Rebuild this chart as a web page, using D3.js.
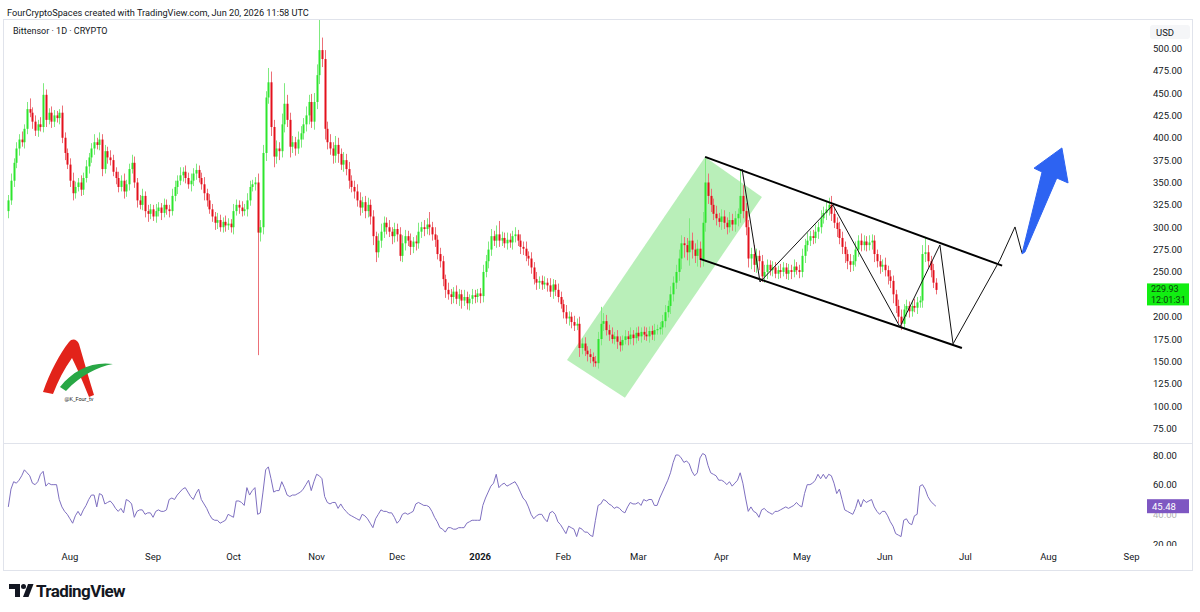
<!DOCTYPE html>
<html>
<head>
<meta charset="utf-8">
<title>Bittensor 1D chart</title>
<style>
  body { margin: 0; background: #fff; }
  svg { display: block; font-family: Roboto, "Liberation Sans", sans-serif; }
</style>
</head>
<body>
<svg id="chart" width="1200" height="612"></svg>
<script src="https://cdn.jsdelivr.net/npm/d3@7/dist/d3.min.js"></script>
<script>
// daily candles, first one on 2025-07-09
var firstDay = Date.UTC(2025, 6, 9);
var firstOpen = 318;

// closes, one per day (open = previous close)
var closes = [
  330,352,372,388,398,395,410,432,428,418,408,415,412,448,420,428,418,425,422,428,
  400,383,370,352,338,345,350,342,355,368,378,388,395,392,398,365,385,378,375,362,
  355,345,352,340,348,365,372,350,330,325,335,318,315,320,312,318,322,316,325,320,
  318,335,345,352,358,362,355,348,352,360,364,355,348,338,330,320,312,305,308,300,
  306,302,304,300,318,325,322,318,320,330,345,348,350,294,300,383,445,462,412,379,
  388,385,415,438,420,390,395,388,398,405,415,425,440,418,440,470,498,488,410,395,
  388,380,392,382,370,375,365,352,345,340,330,322,328,318,325,312,290,272,285,295,
  305,300,295,290,298,292,268,282,290,285,278,284,282,295,300,298,303,300,292,286,
  270,262,242,230,225,222,228,220,225,218,222,215,220,224,222,226,223,250,262,275,
  290,285,292,285,288,282,286,283,290,292,285,278,276,268,265,255,242,238,240,236,
  238,235,228,236,230,222,214,205,198,200,194,190,192,165,170,162,158,155,150,148,
  175,192,195,185,180,175,178,172,168,174,178,175,180,176,182,178,183,180,178,184,
  180,185,186,188,195,205,212,225,238,250,265,282,280,272,285,275,268,276,264,305,
  350,335,325,315,310,306,312,305,300,308,303,310,315,335,318,300,265,270,258,268,
  262,245,250,258,252,255,248,252,250,255,248,252,250,256,252,250,268,280,285,290,
  288,295,300,310,316,320,325,315,305,298,288,278,270,262,258,262,275,285,280,284,
  280,283,285,270,262,256,258,252,245,240,225,212,200,192,208,212,206,212,210,216,
  218,270,272,262,252,238,229.93
];

// wick length above the body, USD
var wickUp = [
  6,8,5,7,6,9,5,8,12,6,7,5,8,13,6,5,7,6,5,4,
  8,6,5,7,9,6,5,8,6,7,5,6,9,5,8,6,7,5,8,6,
  5,7,6,8,5,6,9,7,5,6,8,5,7,6,5,8,6,5,7,6,
  5,8,7,6,9,5,7,6,8,6,7,5,6,8,5,7,6,5,8,6,
  5,7,6,5,8,6,5,7,6,8,7,5,6,10,8,9,7,16,12,8,
  9,7,12,23,10,8,7,6,9,8,7,10,8,9,10,12,34,14,10,8,
  9,7,10,8,6,9,7,8,6,7,8,9,6,7,8,6,7,5,8,9,
  7,6,8,5,7,6,8,9,7,6,8,5,7,10,6,8,7,14,6,8,
  5,7,6,5,8,6,5,7,6,5,8,6,5,7,6,5,6,8,7,9,
  8,6,10,15,7,6,8,7,6,8,5,7,6,8,5,7,6,8,5,6,
  7,5,8,6,5,7,6,5,8,6,5,7,6,8,6,7,5,6,5,6,
  8,19,9,7,6,8,5,7,6,5,7,6,8,5,6,7,5,6,8,5,
  6,7,5,6,7,8,6,9,7,8,10,9,7,8,25,9,7,10,8,12,
  27,10,8,7,9,6,8,7,6,9,7,8,6,29,12,9,8,7,10,8,
  6,7,8,6,5,7,6,5,7,6,5,7,6,8,5,6,8,7,9,6,
  7,8,6,9,7,8,8,10,7,6,8,7,6,5,8,7,9,6,8,7,
  6,8,7,6,5,7,6,8,5,7,6,5,7,8,6,7,5,6,8,6,
  5,10,16,8,6,7,5
];

// wick length below the body, USD
var wickDown = [
  8,5,7,6,8,5,7,6,5,8,6,7,5,6,8,5,7,6,5,7,
  6,8,5,7,8,6,5,7,6,5,8,6,7,5,6,8,5,7,6,5,
  7,6,5,8,6,7,5,6,8,5,6,7,9,6,5,7,6,8,5,6,
  7,5,6,8,5,7,6,5,8,6,7,5,6,8,7,5,6,8,7,5,
  6,7,5,6,8,5,7,6,5,8,6,5,7,137,10,8,9,7,10,12,
  8,10,7,9,8,12,7,8,6,9,7,8,10,7,9,8,10,9,12,8,
  7,9,8,10,6,8,7,9,6,8,7,9,6,8,7,9,10,11,6,8,
  7,8,6,9,7,8,6,7,8,6,9,7,8,6,7,8,6,9,7,8,
  6,7,8,9,6,8,7,6,8,9,6,7,8,6,7,6,8,7,6,8,
  7,6,8,7,6,5,7,6,8,7,6,8,7,6,8,7,6,8,7,6,
  5,7,6,8,7,6,5,7,6,8,7,6,5,10,7,6,8,7,6,4,
  6,7,8,6,7,5,6,8,7,6,5,7,6,8,6,5,7,6,5,7,
  6,7,5,6,8,7,6,9,8,7,10,12,14,9,15,10,8,12,9,8,
  10,9,8,7,8,6,9,7,8,6,7,8,9,10,8,9,10,12,8,9,
  10,6,7,8,6,7,5,6,7,5,6,7,8,6,5,7,6,8,7,6,
  7,6,8,7,6,8,7,8,6,9,7,8,10,9,8,7,6,8,7,6,
  7,6,8,9,7,8,6,7,9,8,10,8,7,7,6,8,7,6,5,7,
  6,8,9,7,8,6,5
];

// RSI(14), one per day
var rsi = [
  45,57,62,61,63,66,70,68,66,61,60,62,67,69,59,61,60,60,60,50,
  45,42,40,37,34,39,42,39,43,46,50,53,53,45,54,53,47,48,49,47,
  44,42,44,41,50,49,47,38,42,43,43,40,41,41,38,42,43,42,42,43,
  50,51,50,53,55,57,58,55,52,50,54,57,50,47,44,40,37,36,36,34,
  35,36,40,39,38,49,49,48,46,58,53,56,58,40,41,55,70,72,64,55,
  56,56,62,58,53,52,53,53,54,55,57,60,63,56,62,67,66,64,52,48,
  47,48,48,44,47,44,42,40,39,38,37,36,40,39,37,34,31,37,40,43,
  42,42,41,41,38,34,36,40,41,40,41,42,47,48,47,46,46,45,42,38,
  35,31,30,28,31,31,30,30,31,31,31,34,35,36,36,36,36,46,51,55,
  59,61,67,58,60,61,59,60,61,62,59,55,51,49,45,40,37,39,40,40,
  37,35,41,42,40,35,33,30,27,32,31,30,25,31,30,28,28,26,25,36,
  46,47,50,49,47,46,44,45,44,42,41,45,48,47,47,48,46,50,49,50,
  50,46,46,51,55,59,63,68,75,80,80,78,75,76,74,69,66,68,78,81,
  80,73,68,67,66,63,63,62,60,62,59,61,63,68,61,51,42,45,42,41,
  38,43,44,42,41,40,42,42,43,44,45,44,45,46,48,46,45,54,60,60,
  61,63,67,64,67,64,67,66,61,54,57,50,43,42,41,40,44,50,45,50,
  48,49,50,45,42,40,42,42,39,35,32,27,26,25,36,37,34,33,39,40,
  59,60,57,52,49,47,45.48
];

var priceTicks = [75,100,125,150,175,200,225,250,275,300,325,350,375,400,425,450,475,500];
var rsiTicks = [20,40,60,80];
var lastTime = "12:01:31";

// drawings: [days after 2026-01-01, price]
var greenBox = [[32.4,151.7],[83.9,378.6],[105.1,333.9],[54,109.3]];
var channelTop = [[83.9,378.6],[194.7,257]];
var channelBottom = [[82,264.6],[179.7,165]];
var zigzag = [[97.7,365.1],[104.4,238.8],[131.6,324.8],[156.6,188.5],[171.5,280.2],
              [176.4,169.6],[193.9,263.5],[199.5,300.3],[202.1,271.3]];
var arrowShape = [[202.1,270.1],[209.6,361.7],[206.6,366],[217,388.6],[219.3,349.5],
                  [215.1,355],[203.2,272.3]];

var DAY = 864e5;
var jan1 = Date.UTC(2026, 0, 1);
function dayDate(i) { return new Date(firstDay + i * DAY); }
function drawDate(d) { return new Date(jan1 + d * DAY); }

var svg = d3.select('#chart');

var x = d3.scaleUtc()
  .domain([dayDate(0), dayDate(346)])
  .range([8.3, 935.9]);
var y = d3.scaleLinear().domain([75, 500]).range([428.5, 48.3]);
var yR = d3.scaleLinear().domain([20, 80]).range([544, 455]);

var green = '#2ee52e', red = '#e3101c';
var ink = '#131722';

// header
svg.append('text').attr('x', 7).attr('y', 15.5)
  .attr('font-size', 9.2).attr('fill', ink)
  .text('FourCryptoSpaces created with TradingView.com, Jun 20, 2026 11:58 UTC');

// frame
svg.append('rect').attr('x', 3.5).attr('y', 19.5).attr('width', 1189).attr('height', 551)
  .attr('fill', 'none').attr('stroke', '#e0e3eb');
svg.append('line').attr('x1', 4).attr('x2', 1192).attr('y1', 443.5).attr('y2', 443.5)
  .attr('stroke', '#e0e3eb');

svg.append('text').attr('x', 13).attr('y', 34)
  .attr('font-size', 9).attr('fill', ink)
  .text('Bittensor \u00b7 1D \u00b7 CRYPTO');

svg.append('defs').append('clipPath').attr('id', 'mainClip')
  .append('rect').attr('x', 4).attr('y', 20).attr('width', 1141).attr('height', 423);

var main = svg.append('g').attr('clip-path', 'url(#mainClip)');

function pt(p) { return [x(drawDate(p[0])), y(p[1])]; }

// highlighted rising zone
main.append('path')
  .attr('d', d3.line()(greenBox.map(pt)) + 'Z')
  .attr('fill', 'rgba(60, 210, 60, 0.36)');

// candles
var candles = closes.map(function (c, i) {
  var o = i === 0 ? firstOpen : closes[i - 1];
  return {
    date: dayDate(i), open: o, close: c,
    high: Math.max(o, c) + wickUp[i],
    low: Math.min(o, c) - wickDown[i]
  };
});

var cg = main.selectAll('g.candle').data(candles).enter().append('g');
cg.append('line')
  .attr('x1', function (d) { return Math.round(x(d.date)) + 0.5; })
  .attr('x2', function (d) { return Math.round(x(d.date)) + 0.5; })
  .attr('y1', function (d) { return y(d.high); })
  .attr('y2', function (d) { return y(d.low); })
  .attr('stroke', function (d) { return d.close >= d.open ? '#7fea7f' : '#ec7078'; })
  .attr('stroke-width', 1);
cg.append('rect')
  .attr('x', function (d) { return Math.round(x(d.date)) - 0.5; })
  .attr('width', 2)
  .attr('y', function (d) { return y(Math.max(d.open, d.close)); })
  .attr('height', function (d) { return Math.max(1, Math.abs(y(d.open) - y(d.close))); })
  .attr('fill', function (d) { return d.close >= d.open ? green : red; });

// channel + path drawings
[channelTop, channelBottom].forEach(function (seg) {
  main.append('path').attr('d', d3.line()(seg.map(pt)))
    .attr('stroke', '#000').attr('stroke-width', 2).attr('fill', 'none');
});
main.append('path').attr('d', d3.line()(zigzag.map(pt)))
  .attr('stroke', '#111').attr('stroke-width', 1).attr('fill', 'none');
main.append('path').attr('d', d3.line().curve(d3.curveLinearClosed)(arrowShape.map(pt)))
  .attr('fill', '#2d63f2').attr('stroke', '#2d63f2').attr('stroke-width', 1)
  .attr('stroke-linejoin', 'round');

// watermark logo
var logo = svg.append('g');
logo.append('path')
  .attr('d', 'M43,392 C50,372 60,353 69,342 C72,338 77,339 79,344 C84,361 89,379 94,395 L89,397 C83,382 77,368 72,358 C64,369 58,381 53,394 Z')
  .attr('fill', '#e2231a');
logo.append('path')
  .attr('d', 'M60,387 C73,370 93,361 113,364 C97,367 81,375 66,391 Z')
  .attr('fill', '#28a745');
logo.append('text').attr('x', 79).attr('y', 401).attr('text-anchor', 'middle')
  .attr('font-size', 5.5).attr('fill', '#222').text('@K_Four_tv');

// price scale
svg.append('rect').attr('x', 1150).attr('y', 25).attr('width', 40).attr('height', 14)
  .attr('rx', 3).attr('fill', '#f5f6f8');
svg.append('text').attr('x', 1165).attr('y', 35.5).attr('text-anchor', 'middle')
  .attr('font-size', 9.5).attr('fill', ink).text('USD');

var last = candles[candles.length - 1];
var ly = y(last.close);
// labels covered by the last price tag are not drawn
svg.selectAll('text.ptick')
  .data(priceTicks.filter(function (d) { return Math.abs(y(d) - (ly + 5)) > 14; }))
  .enter().append('text')
  .attr('x', 1153).attr('y', function (d) { return y(d) + 3.5; })
  .attr('font-size', 9.5).attr('fill', ink)
  .text(function (d) { return d3.format('.2f')(d); });

svg.append('rect').attr('x', 1147).attr('y', ly - 6.5).attr('width', 42).attr('height', 22)
  .attr('fill', '#11ee11');
svg.append('text').attr('x', 1151).attr('y', ly + 2.5).attr('font-size', 9).attr('fill', '#0d3d0d')
  .text(d3.format('.2f')(last.close));
svg.append('text').attr('x', 1151).attr('y', ly + 13).attr('font-size', 9).attr('fill', '#0d3d0d')
  .text(lastTime);

// RSI pane
svg.append('defs').append('clipPath').attr('id', 'rsiClip')
  .append('rect').attr('x', 4).attr('y', 444).attr('width', 1188).attr('height', 102);
var rp = svg.append('g').attr('clip-path', 'url(#rsiClip)');
rp.append('path').datum(rsi)
  .attr('d', d3.line()
    .x(function (d, i) { return x(dayDate(i)); })
    .y(function (d) { return yR(d); }))
  .attr('fill', 'none').attr('stroke', '#7e6fc0').attr('stroke-width', 1);
var rLast = rsi[rsi.length - 1];
var ry = yR(rLast);
rp.selectAll('text.rtick').data(rsiTicks).enter().append('text')
  .attr('x', 1153).attr('y', function (d) { return yR(d) + 3.5; })
  .attr('font-size', 9.5).attr('fill', ink)
  .attr('opacity', function (d) { return Math.abs(yR(d) - ry) < 12 ? 0.35 : 1; })
  .text(function (d) { return d3.format('.2f')(d); });
rp.append('rect').attr('x', 1147).attr('y', ry - 7).attr('width', 42).attr('height', 14)
  .attr('fill', '#7e57c2');
rp.append('text').attr('x', 1152).attr('y', ry + 3.5).attr('font-size', 9.5).attr('fill', '#fff')
  .text(d3.format('.2f')(rLast));

// time axis
var months = d3.utcMonth.range(new Date(Date.UTC(2025, 7, 1)), new Date(Date.UTC(2026, 8, 2)));
svg.selectAll('text.month').data(months).enter().append('text')
  .attr('x', function (d) { return x(d); })
  .attr('y', 560)
  .attr('text-anchor', 'middle')
  .attr('font-size', 9.5)
  .attr('font-weight', function (d) { return d.getUTCMonth() === 0 ? 700 : 400; })
  .attr('fill', ink)
  .text(function (d) { return d.getUTCMonth() === 0 ? d3.utcFormat('%Y')(d) : d3.utcFormat('%b')(d); });

// TradingView footer logo
var tv = svg.append('g').attr('fill', ink);
tv.append('path').attr('d', 'M9,584 H20 V597 H15 V589 H9 Z');
tv.append('circle').attr('cx', 23.5).attr('cy', 586.5).attr('r', 2.5);
tv.append('path').attr('d', 'M28,584 H33.5 L28.5,597 H23 Z');
tv.append('text').attr('x', 36).attr('y', 596.5).attr('font-size', 17).attr('font-weight', 700)
  .attr('letter-spacing', -0.6).text('TradingView');
</script>
</body>
</html>
